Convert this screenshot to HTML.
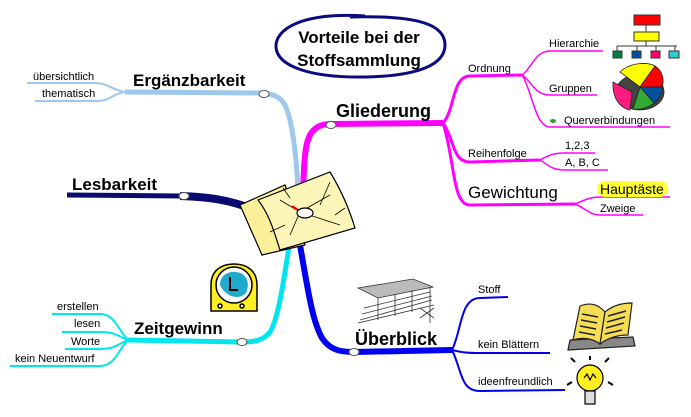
<!DOCTYPE html>
<html><head><meta charset="utf-8"><style>
html,body{margin:0;padding:0;background:#fff;width:691px;height:417px;overflow:hidden}
svg{display:block;font-family:"Liberation Sans",sans-serif}
</style></head><body>
<svg width="691" height="417" viewBox="0 0 691 417" xmlns="http://www.w3.org/2000/svg">
<!-- Title -->
<path d="M365,16 C300,12 275,30 276,47 C277,66 310,78 365,77 C420,76 445,64 445,45 C445,25 420,15 350,17" fill="none" stroke="#0a0a80" stroke-width="3"/>
<text x="359" y="43" font-size="17" font-weight="bold" text-anchor="middle">Vorteile bei der</text>
<text x="359" y="66" font-size="17" font-weight="bold" text-anchor="middle">Stoffsammlung</text>

<!-- Ergänzbarkeit (light blue) -->
<g fill="none" stroke="#9ec8ee">
<path d="M298,190 C296,150 292,120 285,105 C280,96 272,94 262,93 L125,92" stroke-width="5"/>
<path d="M125,92 C112,90 108,83 95,83 L27,83" stroke-width="2"/>
<path d="M125,92 C112,94 110,101 98,101 L35,101" stroke-width="2"/>
</g>
<ellipse cx="264" cy="94" rx="5" ry="3.5" fill="#fff" stroke="#555" stroke-width="1"/>
<text x="133" y="86" font-size="17" font-weight="bold">Ergänzbarkeit</text>
<text x="33" y="80" font-size="11">übersichtlich</text>
<text x="42" y="97" font-size="11">thematisch</text>

<!-- Lesbarkeit (navy) -->
<path d="M67,195 L180,196 C210,197 230,200 255,208" fill="none" stroke="#0a0a70" stroke-width="5"/>
<path d="M180,196 C210,197 230,200 255,210" fill="none" stroke="#0a0a70" stroke-width="8"/>
<ellipse cx="184" cy="196" rx="5" ry="3.5" fill="#fff" stroke="#555"/>
<text x="72" y="190" font-size="17" font-weight="bold">Lesbarkeit</text>

<!-- Gliederung (magenta) -->
<g fill="none" stroke="#ff00ff">
<path d="M303,195 C304,160 305,140 312,132 C318,125 324,124 332,124 L443,123" stroke-width="6"/>
<path d="M443,123 C455,110 452,76 470,76 L522,75" stroke-width="3"/>
<path d="M443,123 C455,140 452,162 470,162 L540,160" stroke-width="3"/>
<path d="M443,123 C455,160 452,205 470,205 L575,204" stroke-width="3"/>
<path d="M522,75 C532,68 535,51 550,51 L603,51" stroke-width="1.5"/>
<path d="M522,75 C532,82 535,95 550,95 L597,95" stroke-width="1.5"/>
<path d="M522,75 C532,90 535,127 550,127 L670,127" stroke-width="1.5"/>
<path d="M540,160 C548,156 552,153 565,153 L595,153" stroke-width="1.5"/>
<path d="M540,160 C548,165 552,170 565,170 L608,170" stroke-width="1.5"/>
<path d="M575,204 C585,200 590,197 600,197 L670,197" stroke-width="1.5"/>
<path d="M575,204 C585,208 590,215 600,215 L643,215" stroke-width="1.5"/>
</g>
<ellipse cx="331" cy="125" rx="5" ry="3.5" fill="#fff" stroke="#555"/>
<text x="336" y="117" font-size="18" font-weight="bold">Gliederung</text>
<text x="468" y="72" font-size="11">Ordnung</text>
<text x="549" y="47" font-size="11">Hierarchie</text>
<text x="549" y="92" font-size="11">Gruppen</text>
<ellipse cx="553" cy="121" rx="3" ry="2" fill="#3a9a3a"/>
<text x="564" y="124" font-size="11">Querverbindungen</text>
<text x="468" y="157" font-size="11">Reihenfolge</text>
<text x="565" y="149" font-size="11">1,2,3</text>
<text x="565" y="166" font-size="11">A, B, C</text>
<text x="468" y="198" font-size="17">Gewichtung</text>
<rect x="597" y="181" width="71" height="16" rx="8" fill="#ffff33"/>
<text x="600" y="194" font-size="14">Hauptäste</text>
<text x="600" y="212" font-size="11">Zweige</text>

<!-- Hierarchy icon -->
<g stroke="#333" stroke-width="1">
<rect x="634" y="15" width="26" height="10" fill="#ff0000"/>
<rect x="634" y="32" width="25" height="9" fill="#ffff00"/>
<path d="M646,25 V32 M646,41 V46 M617,46 H677 M617,46 V51 M637,46 V51 M656,46 V51 M675,46 V51" fill="none"/>
<rect x="613" y="51" width="9" height="7" fill="#008040"/>
<rect x="632" y="51" width="9" height="7" fill="#0050a0"/>
<rect x="651" y="51" width="9" height="7" fill="#ff0066"/>
<rect x="669" y="51" width="10" height="7" fill="#33cccc"/>
</g>
<!-- Pie icon -->
<g stroke="#222" stroke-width="0.8">
<ellipse cx="640" cy="92" rx="24" ry="18" fill="#444"/>
<path d="M640,87 L620,72 C630,62 648,62 655,66 Z" fill="#ffff00"/>
<path d="M640,87 L655,66 C664,72 664,82 662,87 Z" fill="#ff0000"/>
<path d="M640,87 L662,87 C662,96 658,100 654,103 Z" fill="#0050a0"/>
<path d="M640,87 L654,103 C648,108 640,110 633,109 Z" fill="#33aa33"/>
<path d="M632,92 L630,110 C620,108 612,98 613,82 Z" fill="#ff1a80"/>
</g>

<!-- Zeitgewinn (cyan) -->
<g fill="none" stroke="#00e5ee">
<path d="M290,240 C284,280 278,320 270,332 C264,340 255,342 242,342 L128,340" stroke-width="5"/>
<path d="M128,340 C118,330 115,314 100,314 L52,314" stroke-width="2"/>
<path d="M128,340 C118,336 115,332 100,332 L62,332" stroke-width="2"/>
<path d="M128,340 C118,344 115,349 100,349 L65,349" stroke-width="2"/>
<path d="M128,340 C118,350 115,366 100,366 L10,366" stroke-width="2"/>
</g>
<ellipse cx="242" cy="342" rx="5" ry="3.5" fill="#fff" stroke="#555"/>
<text x="134" y="334" font-size="17" font-weight="bold">Zeitgewinn</text>
<text x="57" y="310" font-size="11">erstellen</text>
<text x="74" y="327" font-size="11">lesen</text>
<text x="71" y="345" font-size="11">Worte</text>
<text x="15" y="362" font-size="11">kein Neuentwurf</text>
<!-- clock -->
<g stroke="#000" stroke-width="1.5">
<path d="M211,311 L211,285 C211,270 222,264 234,264 C246,264 257,270 257,285 L257,311 Z" fill="#ffee22"/>
<ellipse cx="234" cy="285" rx="18" ry="18" fill="#fff"/>
<path d="M220,285 C220,274 230,271 236,272 C248,273 250,285 246,293 C240,300 226,298 220,285 Z" fill="#22aacc" stroke="none"/>
<path d="M230,277 V290 H238" fill="none" stroke-width="2"/>
<circle cx="220" cy="306" r="2" fill="#fff"/><circle cx="242" cy="306" r="2" fill="#fff"/>
</g>

<!-- Überblick (blue) -->
<g fill="none" stroke="#0000ee">
<path d="M300,245 C308,290 312,320 322,338 C330,350 340,352 354,352 L452,350" stroke-width="6"/>
<path d="M452,350 C462,330 460,298 480,298 L508,297" stroke-width="2"/>
<path d="M452,350 C460,352 465,353 480,353 L550,353" stroke-width="2"/>
<path d="M452,350 C462,370 460,391 480,391 L565,390" stroke-width="2"/>
</g>
<ellipse cx="354" cy="352" rx="5" ry="3.5" fill="#fff" stroke="#555"/>
<text x="355" y="345" font-size="18" font-weight="bold">Überblick</text>
<text x="478" y="293" font-size="11">Stoff</text>
<text x="478" y="348" font-size="11">kein Blättern</text>
<text x="478" y="385" font-size="11">ideenfreundlich</text>
<!-- stand icon -->
<g stroke="#333" stroke-width="0.8" fill="none">
<path d="M358,288 L413,279 L433,287 L378,298 Z" fill="#bbb"/>
<path d="M360,320 L432,300 M362,314 L432,296 M364,308 L430,292 M358,323 L434,305 M378,298 V320 M395,294 V316 M412,290 V312 M430,287 V323 M420,308 L434,318 M420,318 L434,308"/>
</g>
<!-- book -->
<g stroke="#222" stroke-width="1.2">
<path d="M568,350 L635,346 L633,337 L570,340 Z" fill="#888"/>
<path d="M573,340 L580,306 C590,302 598,304 605,312 L600,344 C592,338 582,337 573,340 Z" fill="#f5dd55"/>
<path d="M600,344 L605,312 C612,306 622,303 632,303 L628,335 C618,335 608,338 600,344 Z" fill="#f5dd55"/>
<path d="M582,314 L598,317 M581,320 L597,323 M580,326 L596,329 M579,332 L595,335 M608,316 L626,311 M607,322 L625,317 M606,328 L624,323 M605,334 L622,330" stroke-width="1.5"/>
</g>
<!-- bulb -->
<g stroke="#000" stroke-width="1.2">
<circle cx="590" cy="378" r="13" fill="#ffee22"/>
<path d="M584,378 L587,374 L590,380 L593,374 L596,378" fill="none"/>
<rect x="585" y="391" width="10" height="13" fill="#ddd"/>
<path d="M575,362 L571,358 M605,362 L609,358 M590,360 V356 M572,382 L567,385 M608,382 L613,385" stroke-width="2"/>
</g>

<!-- Center map -->
<g stroke="#000" stroke-width="1.2">
<path d="M240,205 L285,185 L305,245 L262,255 Z" fill="#fbf09a"/>
<path d="M258,200 L330,172 C338,185 348,205 355,228 L280,250 C275,235 270,215 258,200 Z" fill="#fbf6b8"/>
<g fill="none" stroke-width="0.8">
<path d="M300,212 L280,200 M300,212 L290,235 M300,212 L330,195 M300,212 L340,225 M320,205 L330,182 M285,225 L270,232 M335,215 L345,208 M290,198 L283,188"/>
</g>
<ellipse cx="305" cy="213" rx="8" ry="5" fill="#fff"/>
<path d="M298,210 L292,206" stroke="#e00" stroke-width="2"/>
</g>
</svg>
</body></html>
